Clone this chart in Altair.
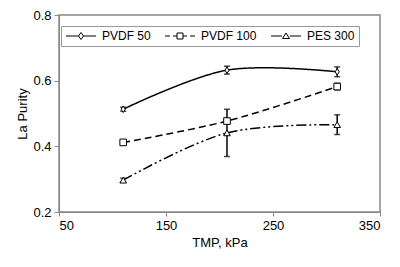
import altair as alt
import pandas as pd

series = ["PVDF 50", "PVDF 100", "PES 300"]
tmp = [110, 207, 310]
pvdf50 = [0.513, 0.632, 0.627]
pvdf100 = [0.412, 0.477, 0.582]
pes300 = [0.297, 0.441, 0.466]
err50 = [0.006, 0.012, 0.015]
err100 = [0.006, 0.008, 0.010]
err300 = [0.006, 0.072, 0.030]

rows = []
for s, ys, es in zip(series, [pvdf50, pvdf100, pes300], [err50, err100, err300]):
    for x, y, e in zip(tmp, ys, es):
        rows.append(dict(series=s, tmp=x, purity=y, lo=y - e, hi=y + e))
df = pd.DataFrame(rows)

FONT = "Liberation Sans"
GREY = "#888888"

xenc = alt.X("tmp:Q", scale=alt.Scale(domain=[50, 350], nice=False),
             axis=alt.Axis(values=[50, 150, 250, 350], title="TMP, kPa"))
yenc = alt.Y("purity:Q", scale=alt.Scale(domain=[0.2, 0.8], nice=False, zero=False),
             axis=alt.Axis(values=[0.2, 0.4, 0.6, 0.8], format=".1f", title="La Purity"))

dash_scale = alt.Scale(domain=series, range=[[1, 0], [7, 4], [10, 3, 2, 3, 2, 3]])
diamond = "M-0.6,0L0,-1L0.6,0L0,1Z"
shape_scale = alt.Scale(domain=series, range=[diamond, "square", "triangle-up"])

legend_paths = [
    "M-1,0H1.5M2.5,0H5M2,-0.7L2.5,0L2,0.7L1.5,0Z",
    "M-1,0H0M0.6,0H1.4M1.4,-0.6H2.6V0.6H1.4ZM2.6,0H3.4M4,0H5",
    "M-1,0H1.2M2.8,0H5M2,-0.6L2.7,0.5H1.3Z",
]
legend_scale = alt.Scale(domain=series, range=legend_paths)

base = alt.Chart(df)

line = base.mark_line(color="black", strokeWidth=1.5, interpolate="catmull-rom").encode(
    x=xenc, y=yenc,
    strokeDash=alt.StrokeDash("series:N", scale=dash_scale, legend=None),
    detail="series:N",
)

rules = base.mark_rule(color="black", strokeWidth=1.5).encode(
    x="tmp:Q", y="lo:Q", y2="hi:Q"
)
cap_lo = base.mark_tick(color="black", orient="horizontal", size=6, thickness=1.5).encode(
    x="tmp:Q", y="lo:Q"
)
cap_hi = base.mark_tick(color="black", orient="horizontal", size=6, thickness=1.5).encode(
    x="tmp:Q", y="hi:Q"
)

points = base.mark_point(filled=True, fill="white", stroke="black", strokeWidth=1, size=44, opacity=1).encode(
    x="tmp:Q", y="purity:Q",
    shape=alt.Shape("series:N", scale=shape_scale, legend=None),
)

legend_layer = base.transform_filter("false").mark_point(
    filled=False, color="black", strokeWidth=1, size=100
).encode(
    x="tmp:Q", y="purity:Q",
    shape=alt.Shape("series:N", scale=legend_scale, sort=series,
                    legend=alt.Legend(
                        title=None, orient="none", legendX=2, legendY=11,
                        direction="horizontal", strokeColor="#999999", fillColor="white",
                        padding=4, columnPadding=12, labelOffset=25, symbolSize=100,
                        symbolStrokeColor="black", symbolStrokeWidth=1, symbolOpacity=1,
                        labelFont=FONT, labelFontSize=12, labelColor="black",
                    )),
)

chart = alt.layer(line, rules, cap_lo, cap_hi, points, legend_layer).resolve_scale(
    shape="independent"
).properties(
    width=321, height=197,
    padding={"left": 8, "top": 1, "right": 5, "bottom": 5},
).configure_view(
    stroke=GREY, strokeWidth=1.5
).configure_axis(
    grid=False, domainColor=GREY, tickColor=GREY, labelFont=FONT, titleFont=FONT,
    labelFontSize=13, titleFontSize=13, labelColor="black", titleColor="black",
    titleFontWeight="normal", tickSize=5, labelPadding=3,
).configure_axisY(titlePadding=3).configure_axisX(titlePadding=4, tickSize=4)

chart.save("out.html", embed_options={"renderer": "svg", "actions": False})
